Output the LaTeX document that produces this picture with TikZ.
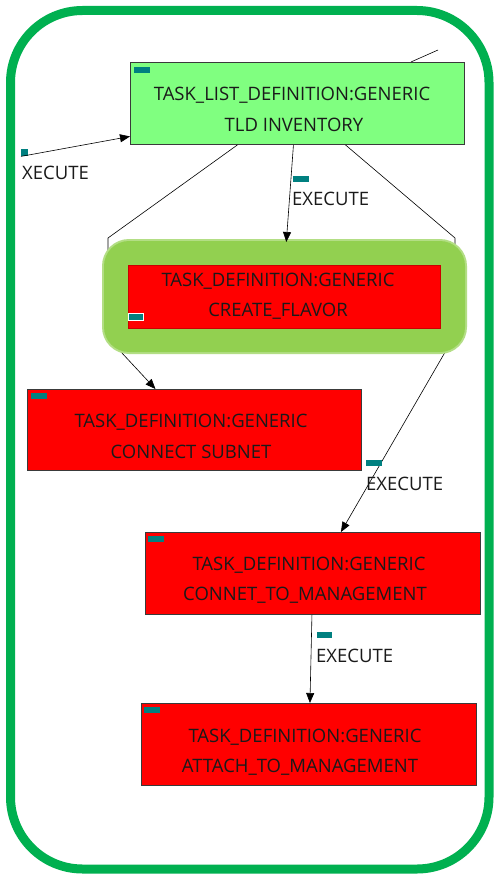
\documentclass[tikz,border=0pt]{standalone}
\usepackage{fontspec}
\setmainfont{Open Sans}
\usetikzlibrary{arrows.meta}
\definecolor{framegreen}{HTML}{00B050}
\definecolor{tldgreen}{HTML}{80FF80}
\definecolor{hilite}{HTML}{92D050}
\definecolor{taskred}{HTML}{FF0000}
\definecolor{iconteal}{HTML}{008080}
\definecolor{boxedge}{HTML}{3A3A3A}
\definecolor{txt}{HTML}{1A1A1A}
\tikzset{
  taskbox/.style={draw=boxedge, line width=0.9pt, inner sep=0pt},
  tasktext/.style={text=txt, font=\fontsize{18.5}{22}\selectfont, inner sep=0pt, anchor=center},
  flowlabel/.style={text=txt, font=\fontsize{18.5}{22}\selectfont, inner sep=0pt, anchor=west},
  icon/.style={fill=iconteal, inner sep=0pt, minimum width=16pt, minimum height=6pt, anchor=north west},
  link/.style={draw=black, line width=0.6pt},
  flow/.style={link, -{Triangle[width=8pt,length=10pt]}},
}
\begin{document}
\begin{tikzpicture}[x=1pt,y=-1pt]
\useasboundingbox (0,0) rectangle (494,877);
\fill[white] (0,0) rectangle (494,877);

% outer frame
\draw[framegreen, line width=9pt, rounded corners=72pt] (10.5,10.5) rectangle (489,869);

% boxes
\node[taskbox, fill=tldgreen, minimum width=334pt, minimum height=82pt, anchor=north west] (tld) at (130,62) {};
\node[taskbox, fill=taskred, minimum width=334pt, minimum height=81pt, anchor=north west] (subnet) at (27,389) {};
\node[taskbox, fill=taskred, minimum width=335pt, minimum height=82pt, anchor=north west] (connet) at (145,532) {};
\node[taskbox, fill=taskred, minimum width=335pt, minimum height=82pt, anchor=north west] (attach) at (141,703) {};

% connectors routed around the highlighted task
\coordinate (l1) at (108,238);
\coordinate (l2) at (108,338);
\coordinate (r1) at (455,238);
\coordinate (r2) at (455,335);
\draw[link] ([xshift=-60pt]tld.south) -- (l1) -- (l2);
\draw[flow] (l2) -- ([xshift=-39pt]subnet.north);
\draw[link] ([xshift=48pt]tld.south) -- (r1) -- (r2);
\draw[flow] (r2) -- ([xshift=28pt]connet.north);

% highlighted task
\fill[hilite!70!white, rounded corners=27pt] (102,239) rectangle (467,354);
\fill[hilite, rounded corners=25pt] (104,241) rectangle (465,352);
\node[draw=taskred!80!black, line width=0.6pt, fill=taskred, minimum width=312pt, minimum height=63pt, inner sep=0pt, anchor=north west] (flavor) at (128,265) {};

% texts
\node[tasktext] (tldA) at (292,95) {TASK\_LIST\_DEFINITION:GENERIC};
\node[tasktext] (tldB) at (294,125) {TLD INVENTORY};
\node[tasktext] (flA) at (278,281) {TASK\_DEFINITION:GENERIC};
\node[tasktext] (flB) at (278,311) {CREATE\_FLAVOR};
\node[tasktext] (snA) at (191,422) {TASK\_DEFINITION:GENERIC};
\node[tasktext] (snB) at (191,452) {CONNECT SUBNET};
\node[tasktext] (cnA) at (309,565) {TASK\_DEFINITION:GENERIC};
\node[tasktext] (cnB) at (305,595) {CONNET\_TO\_MANAGEMENT};
\node[tasktext] (atA) at (305,737) {TASK\_DEFINITION:GENERIC};
\node[tasktext] (atB) at (300,767) {ATTACH\_TO\_MANAGEMENT};

% icons
\node[icon] (tldicon) at (134,67) {};
\node[icon, draw=white, line width=0.6pt, minimum width=15pt, minimum height=7pt] (flicon) at (128,313) {};
\node[icon] (snicon) at (31,393) {};
\node[icon] (cnicon) at (148,536) {};
\node[icon] (aticon) at (144,707) {};

% flows
\node[icon, minimum width=7pt, minimum height=7pt] (xicon) at (21,149) {};
\draw[flow] (xicon.south west) -- ([yshift=-33pt]tld.west);
\node[flowlabel] (xlab) at (22,173) {XECUTE};

\draw[flow] ([xshift=-4pt]tld.south) -- ([xshift=2pt]flavor.north |- 0,242);
\node[icon] (midicon) at (293,176) {};
\node[flowlabel] (midlab) at (292,199) {EXECUTE};

\node[icon] (righticon) at (366,460) {};
\node[flowlabel] (rightlab) at (366,484) {EXECUTE};

\draw[flow] ([xshift=-1pt]connet.south) -- ([xshift=1pt]attach.north);
\node[icon, minimum width=15pt] (lowicon) at (317,632) {};
\node[flowlabel] (lowlab) at (316,656) {EXECUTE};

% edge leaving towards the top right
\coordinate (offtop) at (438,50);
\draw[link] ([xshift=-54pt]tld.north east) -- (offtop);
\end{tikzpicture}
\end{document}
